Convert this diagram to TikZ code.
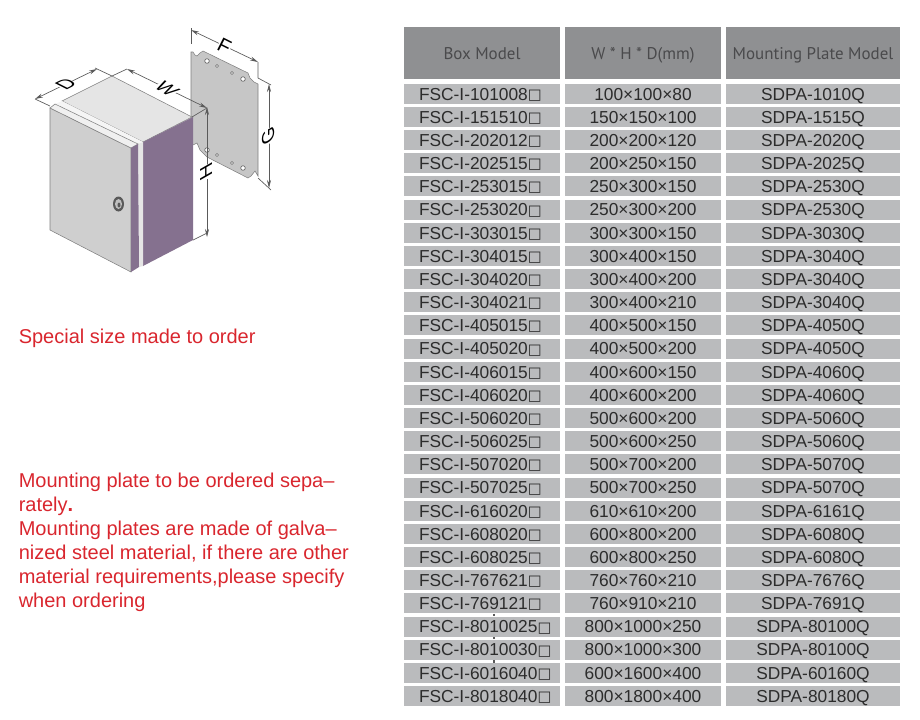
\documentclass[tikz,border=0pt]{standalone}
\usepackage{fontspec}
\usepackage{tikz}
\usetikzlibrary{arrows.meta}
\setmainfont{Liberation Sans}
\newfontfamily\headfont{PT Sans}
\newfontfamily\symfont{DejaVu Sans}
\newcommand{\sq}{\raisebox{0.6pt}{\symfont\fontsize{11}{12}\selectfont □}}
\definecolor{headgray}{HTML}{8F9092}
\definecolor{rowgray}{HTML}{BABBBD}
\definecolor{inkgray}{HTML}{2C2C2C}
\definecolor{headink}{HTML}{4A4A4C}
\definecolor{notered}{HTML}{D9262E}
\definecolor{sidepurple}{HTML}{85718F}
\definecolor{dimgray}{HTML}{5A5A5A}
\tikzset{
cell/.style={fill=rowgray,text=inkgray,inner sep=0pt,minimum height=15pt,text height=9.5pt,text depth=0pt,font=\fontsize{13}{15}\selectfont},
sizecell/.style={cell,minimum width=117pt},
platecell/.style={cell,minimum width=130.5pt},
boxcell/.style={cell,minimum width=117pt,text width=117pt,align=left,execute at begin node=\hspace*{11.25pt}},
headcell/.style={fill=headgray,text=headink,inner sep=0pt,minimum height=39pt,text height=9.5pt,text depth=0pt,font=\headfont\fontsize{12.7}{15}\selectfont},
note/.style={text=notered,inner sep=0pt,anchor=north west,align=left,font=\fontsize{15}{18}\selectfont},
dimline/.style={draw=dimgray,line width=0.5pt},
dimarrow/.style={dimline,{Stealth[length=6pt,width=3pt]}-{Stealth[length=6pt,width=3pt]}},
dimlabel/.style={fill=white,inner sep=0pt,text=black,font=\fontsize{15}{15}\selectfont},
edge/.style={draw=gray,line width=0.4pt},
hole/.style={fill=white,draw=gray!80!black,line width=0.5pt}
}
\begin{document}
\begin{tikzpicture}[x=0.75pt,y=-0.75pt]
\useasboundingbox (0,0) rectangle (920,719);

\fill[gray!45] (191,52) -- (193,52) -- (195,55) -- (197,56) -- (200,53) -- (203,51) -- (248,73) -- (250,78) -- (254,82) -- (258,84) -- (258,176) -- (255,171) -- (251,176) -- (248,178) -- (207,157) -- (200,150) -- (197,143) -- (193,145) -- (191,143) -- cycle;
\draw[edge] (191,143) -- (191,52) -- (193,52) -- (195,55) -- (197,56) -- (200,53) -- (203,51) -- (248,73) -- (250,78) -- (254,82) -- (258,84) -- (258,176) -- (255,171) -- (251,176) -- (248,178) -- (207,157) -- (200,150) -- (197,143) -- (193,145);
\draw[hole] (207,61) circle (2.3);
\draw[hole] (217,66) circle (1.5);
\draw[hole] (232,73) circle (1.5);
\draw[hole] (243,79) circle (2.3);
\draw[hole] (207,150) circle (2.3);
\draw[hole] (217,155) circle (1.5);
\draw[hole] (232,163) circle (1.5);
\draw[hole] (243,168) circle (2.3);

\fill[gray!20,draw=gray] (62,101) -- (112,76) -- (192,117) -- (143,142) -- cycle;
\fill[gray!8] (55,104) -- (62,101) -- (143,142) -- (138,144) -- cycle;
\fill[sidepurple] (143,142) -- (193,117) -- (193,240) -- (143,266) -- cycle;
\fill[gray!20] (138,144) -- (143,142) -- (143,266) -- (139,267) -- cycle;
\fill[gray!38,draw=gray] (50,108) -- (131,148) -- (131,272) -- (50,230) -- cycle;
\fill[gray!12,draw=gray] (50,108) -- (55,104) -- (138,144) -- (131,148) -- cycle;
\fill[sidepurple] (131,148) -- (138,144) -- (139,267) -- (131,272) -- cycle;
\fill[gray!70!black] (118.5,204) ellipse (5.5 and 7.5);
\fill[gray!50] (118.5,204) ellipse (3.5 and 5);
\fill[gray!70!black] (119,205) ellipse (1.5 and 2.5);

\draw[dimline] (35,99) -- (50,106);
\draw[dimline] (95,68) -- (112,76) -- (127,69);
\draw[dimline] (192,117) -- (207,108);
\draw[dimline] (191,28) -- (191,44);
\draw[dimline] (258,62) -- (258,78) -- (271,85);
\draw[dimline] (258,178) -- (271,190);
\draw[dimline] (193,240) -- (207,233);
\draw[dimarrow] (35,99) -- (97,69) node[dimlabel,midway,cm={.89,.45,-.89,.45,(0,0)}] (dimD) {D};
\draw[dimarrow] (127,69) -- (207,108) node[dimlabel,midway,cm={.85,-.5,.85,.5,(0,0)}] (dimW) {W};
\draw[dimarrow] (191,30) -- (258,62) node[dimlabel,midway,cm={.89,-.45,.45,.89,(0,0)}] (dimF) {F};
\draw[dimarrow] (269,84) -- (269,188) node[dimlabel,pos=0.5,cm={0,1,-.87,-.5,(0,0)}] (dimG) {G};
\draw[dimarrow] (207,107) -- (207,237) node[dimlabel,pos=0.5,cm={0,1,-.87,-.5,(0,0)}] (dimH) {H};

\node[note] (size) at (18.5,329) {Special size made to order};
\node[note] (plate) at (18.5,473) {Mounting plate to be ordered sepa–\\rately\textbf{.}\\Mounting plates are made of galva–\\nized steel material, if there are other\\material requirements,please specify\\when ordering};

\node[headcell,minimum width=117pt] (boxhead) at (482,53) {Box Model};
\node[headcell,minimum width=117pt] (sizehead) at (643,53) {W * H * D(mm)};
\node[headcell,minimum width=130.5pt] (platehead) at (813,53) {Mounting Plate Model};

\node[boxcell] (b1) at (482,93.8) {FSC-I-101008\sq};
\node[sizecell] (s1) at (643,93.8) {100×100×80};
\node[platecell] (p1) at (813,93.8) {SDPA-1010Q};
\node[boxcell] (b2) at (482,117.0) {FSC-I-151510\sq};
\node[sizecell] (s2) at (643,117.0) {150×150×100};
\node[platecell] (p2) at (813,117.0) {SDPA-1515Q};
\node[boxcell] (b3) at (482,140.1) {FSC-I-202012\sq};
\node[sizecell] (s3) at (643,140.1) {200×200×120};
\node[platecell] (p3) at (813,140.1) {SDPA-2020Q};
\node[boxcell] (b4) at (482,163.3) {FSC-I-202515\sq};
\node[sizecell] (s4) at (643,163.3) {200×250×150};
\node[platecell] (p4) at (813,163.3) {SDPA-2025Q};
\node[boxcell] (b5) at (482,186.4) {FSC-I-253015\sq};
\node[sizecell] (s5) at (643,186.4) {250×300×150};
\node[platecell] (p5) at (813,186.4) {SDPA-2530Q};
\node[boxcell] (b6) at (482,209.6) {FSC-I-253020\sq};
\node[sizecell] (s6) at (643,209.6) {250×300×200};
\node[platecell] (p6) at (813,209.6) {SDPA-2530Q};
\node[boxcell] (b7) at (482,232.8) {FSC-I-303015\sq};
\node[sizecell] (s7) at (643,232.8) {300×300×150};
\node[platecell] (p7) at (813,232.8) {SDPA-3030Q};
\node[boxcell] (b8) at (482,255.9) {FSC-I-304015\sq};
\node[sizecell] (s8) at (643,255.9) {300×400×150};
\node[platecell] (p8) at (813,255.9) {SDPA-3040Q};
\node[boxcell] (b9) at (482,279.1) {FSC-I-304020\sq};
\node[sizecell] (s9) at (643,279.1) {300×400×200};
\node[platecell] (p9) at (813,279.1) {SDPA-3040Q};
\node[boxcell] (b10) at (482,302.2) {FSC-I-304021\sq};
\node[sizecell] (s10) at (643,302.2) {300×400×210};
\node[platecell] (p10) at (813,302.2) {SDPA-3040Q};
\node[boxcell] (b11) at (482,325.4) {FSC-I-405015\sq};
\node[sizecell] (s11) at (643,325.4) {400×500×150};
\node[platecell] (p11) at (813,325.4) {SDPA-4050Q};
\node[boxcell] (b12) at (482,348.6) {FSC-I-405020\sq};
\node[sizecell] (s12) at (643,348.6) {400×500×200};
\node[platecell] (p12) at (813,348.6) {SDPA-4050Q};
\node[boxcell] (b13) at (482,371.7) {FSC-I-406015\sq};
\node[sizecell] (s13) at (643,371.7) {400×600×150};
\node[platecell] (p13) at (813,371.7) {SDPA-4060Q};
\node[boxcell] (b14) at (482,394.9) {FSC-I-406020\sq};
\node[sizecell] (s14) at (643,394.9) {400×600×200};
\node[platecell] (p14) at (813,394.9) {SDPA-4060Q};
\node[boxcell] (b15) at (482,418.0) {FSC-I-506020\sq};
\node[sizecell] (s15) at (643,418.0) {500×600×200};
\node[platecell] (p15) at (813,418.0) {SDPA-5060Q};
\node[boxcell] (b16) at (482,441.2) {FSC-I-506025\sq};
\node[sizecell] (s16) at (643,441.2) {500×600×250};
\node[platecell] (p16) at (813,441.2) {SDPA-5060Q};
\node[boxcell] (b17) at (482,464.4) {FSC-I-507020\sq};
\node[sizecell] (s17) at (643,464.4) {500×700×200};
\node[platecell] (p17) at (813,464.4) {SDPA-5070Q};
\node[boxcell] (b18) at (482,487.5) {FSC-I-507025\sq};
\node[sizecell] (s18) at (643,487.5) {500×700×250};
\node[platecell] (p18) at (813,487.5) {SDPA-5070Q};
\node[boxcell] (b19) at (482,510.7) {FSC-I-616020\sq};
\node[sizecell] (s19) at (643,510.7) {610×610×200};
\node[platecell] (p19) at (813,510.7) {SDPA-6161Q};
\node[boxcell] (b20) at (482,533.8) {FSC-I-608020\sq};
\node[sizecell] (s20) at (643,533.8) {600×800×200};
\node[platecell] (p20) at (813,533.8) {SDPA-6080Q};
\node[boxcell] (b21) at (482,557.0) {FSC-I-608025\sq};
\node[sizecell] (s21) at (643,557.0) {600×800×250};
\node[platecell] (p21) at (813,557.0) {SDPA-6080Q};
\node[boxcell] (b22) at (482,580.2) {FSC-I-767621\sq};
\node[sizecell] (s22) at (643,580.2) {760×760×210};
\node[platecell] (p22) at (813,580.2) {SDPA-7676Q};
\node[boxcell] (b23) at (482,603.3) {FSC-I-769121\sq};
\node[sizecell] (s23) at (643,603.3) {760×910×210};
\node[platecell] (p23) at (813,603.3) {SDPA-7691Q};
\node[boxcell] (b24) at (482,626.5) {FSC-I-8010025\sq};
\node[sizecell] (s24) at (643,626.5) {800×1000×250};
\node[platecell] (p24) at (813,626.5) {SDPA-80100Q};
\node[boxcell] (b25) at (482,649.6) {FSC-I-8010030\sq};
\node[sizecell] (s25) at (643,649.6) {800×1000×300};
\node[platecell] (p25) at (813,649.6) {SDPA-80100Q};
\node[boxcell] (b26) at (482,672.8) {FSC-I-6016040\sq};
\node[sizecell] (s26) at (643,672.8) {600×1600×400};
\node[platecell] (p26) at (813,672.8) {SDPA-60160Q};
\node[boxcell] (b27) at (482,696) {FSC-I-8018040\sq};
\node[sizecell] (s27) at (643,696) {800×1800×400};
\node[platecell] (p27) at (813,696) {SDPA-80180Q};

\draw[dimgray,line width=0.8pt] (b23.south -| 494,0) -- (b24.north -| 494,0);
\draw[dimgray,line width=0.8pt] (b24.south -| 494,0) -- (b25.north -| 494,0);
\draw[dimgray,line width=0.8pt] (b25.south -| 494,0) -- (b26.north -| 494,0);
\end{tikzpicture}
\end{document}
